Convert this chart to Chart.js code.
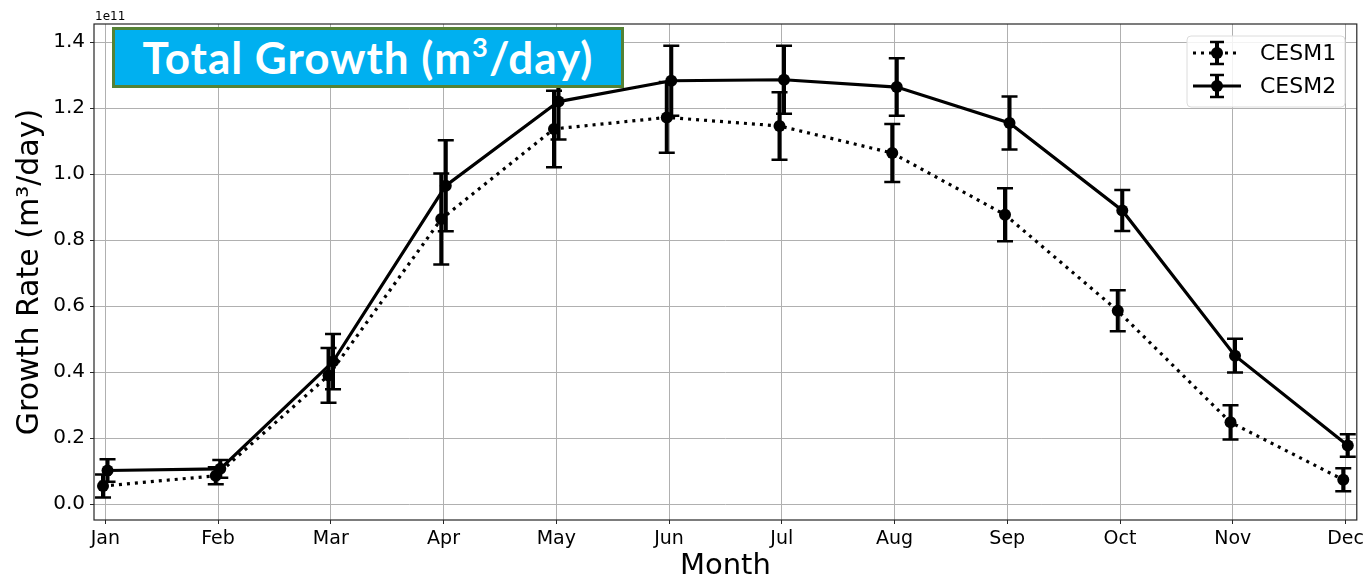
<!DOCTYPE html>
<html>
<head>
<meta charset="utf-8">
<script src="https://cdn.jsdelivr.net/npm/chart.js@4.4.0/dist/chart.umd.min.js"></script>
<style>
  html, body { margin: 0; padding: 0; background: #fff; }
  #wrap { position: relative; width: 1368px; height: 582px; }
  #growthChart { position: absolute; left: 0; top: 0; }
  #titleBox {
    position: absolute; left: 112px; top: 27px; width: 512px; height: 61px;
    box-sizing: border-box; background: #00b0f0; border: 3px solid #548235;
    color: #fff; font-family: Lato, sans-serif; font-weight: bold; font-size: 44px;
    letter-spacing: 1px; line-height: 55px; text-align: center; white-space: nowrap;
  }
  #titleBox sup { font-size: 0.62em; position: relative; top: -0.62em; vertical-align: baseline; line-height: 0; }
</style>
</head>
<body>
<div id="wrap">
  <canvas id="growthChart" width="1368" height="582"></canvas>
  <div id="titleBox">Total Growth (m<sup>3</sup>/day)</div>
</div>
<script>
// monthly growth rate, units of 1e11 m3/day
const months = ['Jan', 'Feb', 'Mar', 'Apr', 'May', 'Jun', 'Jul', 'Aug', 'Sep', 'Oct', 'Nov', 'Dec'];
const cesm1 = [0.055, 0.086, 0.390, 0.864, 1.137, 1.172, 1.146, 1.064, 0.877, 0.586, 0.248, 0.074];
const cesm1Err = [0.035, 0.026, 0.083, 0.138, 0.116, 0.107, 0.102, 0.088, 0.080, 0.062, 0.052, 0.035];
const cesm2 = [0.102, 0.107, 0.432, 0.965, 1.220, 1.283, 1.286, 1.264, 1.155, 0.890, 0.450, 0.178];
const cesm2Err = [0.034, 0.027, 0.084, 0.138, 0.115, 0.106, 0.103, 0.087, 0.080, 0.062, 0.051, 0.034];
// small horizontal offset between the two runs, as in the original
const cesm1Shift = -0.02;
const cesm2Shift = 0.02;

Chart.defaults.font.family = "'DejaVu Sans', sans-serif";
Chart.defaults.color = '#000';

function toPoints(vals, errs, shift) {
    return vals.map((v, i) => ({ x: i + shift, y: v, err: errs[i] }));
}

// vertical error bars with caps
const errorBars = {
    id: 'errorBars',
    afterDatasetsDraw(chart) {
        const ctx = chart.ctx;
        const xs = chart.scales.x, ys = chart.scales.y;
        ctx.save();
        ctx.strokeStyle = '#000';
        chart.data.datasets.forEach(ds => {
            ds.data.forEach(p => {
                const px = xs.getPixelForValue(p.x);
                const top = ys.getPixelForValue(p.y + p.err);
                const bot = ys.getPixelForValue(p.y - p.err);
                ctx.lineWidth = 4;
                ctx.beginPath();
                ctx.moveTo(px, top);
                ctx.lineTo(px, bot);
                ctx.stroke();
                ctx.lineWidth = 2.5;
                ctx.beginPath();
                ctx.moveTo(px - 8, top); ctx.lineTo(px + 8, top);
                ctx.moveTo(px - 8, bot); ctx.lineTo(px + 8, bot);
                ctx.stroke();
            });
        });
        ctx.restore();
    }
};

function drawHandle(ctx, cx, cy, dotted) {
    ctx.save();
    ctx.strokeStyle = '#000';
    ctx.fillStyle = '#000';
    ctx.lineWidth = 3.2;
    if (dotted) ctx.setLineDash([3, 5]);
    ctx.beginPath();
    ctx.moveTo(cx - 24, cy);
    ctx.lineTo(cx + 24, cy);
    ctx.stroke();
    ctx.setLineDash([]);
    ctx.lineWidth = 4;
    ctx.beginPath();
    ctx.moveTo(cx, cy - 11);
    ctx.lineTo(cx, cy + 11);
    ctx.stroke();
    ctx.lineWidth = 2.5;
    ctx.beginPath();
    ctx.moveTo(cx - 7, cy - 11); ctx.lineTo(cx + 7, cy - 11);
    ctx.moveTo(cx - 7, cy + 11); ctx.lineTo(cx + 7, cy + 11);
    ctx.stroke();
    ctx.beginPath();
    ctx.arc(cx, cy, 6, 0, Math.PI * 2);
    ctx.fill();
    ctx.restore();
}

// axes frame, offset label and the legend box
const decorations = {
    id: 'decorations',
    afterDraw(chart) {
        const ctx = chart.ctx;
        const a = chart.chartArea;
        ctx.save();
        ctx.strokeStyle = '#262626';
        ctx.lineWidth = 1.2;
        ctx.strokeRect(a.left, a.top, a.right - a.left, a.bottom - a.top);

        ctx.fillStyle = '#000';
        ctx.font = "12px 'DejaVu Sans'";
        ctx.textBaseline = 'alphabetic';
        ctx.textAlign = 'left';
        ctx.fillText('1e11', a.left + 1, a.top - 4);

        // legend
        const lx = 1187, ly = 36, lw = 158, lh = 71;
        ctx.fillStyle = 'rgba(255,255,255,0.85)';
        ctx.strokeStyle = '#dcdcdc';
        ctx.lineWidth = 1;
        ctx.beginPath();
        ctx.roundRect(lx, ly, lw, lh, 4);
        ctx.fill();
        ctx.stroke();

        const names = chart.data.datasets.map(d => d.label);
        const rows = [53, 86];
        names.forEach((name, i) => {
            drawHandle(ctx, 1217, rows[i], i === 0);
            ctx.fillStyle = '#000';
            ctx.font = "22px 'DejaVu Sans'";
            ctx.textBaseline = 'middle';
            ctx.textAlign = 'left';
            ctx.fillText(name, 1260, rows[i] + 1);
        });
        ctx.restore();
    }
};

const ctx = document.getElementById('growthChart').getContext('2d');
new Chart(ctx, {
    type: 'line',
    data: {
        datasets: [
            {
                label: 'CESM1',
                data: toPoints(cesm1, cesm1Err, cesm1Shift),
                borderColor: '#000',
                backgroundColor: '#000',
                borderWidth: 3.2,
                borderDash: [3, 5],
                pointRadius: 6,
                pointBorderWidth: 0,
                tension: 0
            },
            {
                label: 'CESM2',
                data: toPoints(cesm2, cesm2Err, cesm2Shift),
                borderColor: '#000',
                backgroundColor: '#000',
                borderWidth: 3.2,
                pointRadius: 6,
                pointBorderWidth: 0,
                tension: 0
            }
        ]
    },
    options: {
        responsive: false,
        animation: false,
        layout: { padding: { left: 0, right: 11, top: 24, bottom: 0 } },
        plugins: {
            legend: { display: false },
            tooltip: { enabled: false }
        },
        scales: {
            x: {
                type: 'linear',
                min: -0.1,
                max: 11.1,
                afterFit(s) { s.height = 62; },
                border: { display: false },
                grid: { color: '#b0b0b0', lineWidth: 1, tickLength: 4, tickColor: '#262626' },
                ticks: {
                    stepSize: 1,
                    includeBounds: false,
                    autoSkip: false,
                    maxRotation: 0,
                    padding: 4,
                    font: { size: 19 },
                    callback: v => months[Math.round(v)] || ''
                },
                title: {
                    display: true,
                    text: 'Month',
                    font: { size: 29, lineHeight: 1.1 },
                    padding: { top: 0, bottom: 0 }
                }
            },
            y: {
                min: -0.048,
                max: 1.455,
                afterFit(s) { s.width = 94; },
                border: { display: false },
                grid: { color: '#b0b0b0', lineWidth: 1, tickLength: 4, tickColor: '#262626' },
                ticks: {
                    stepSize: 0.2,
                    includeBounds: false,
                    padding: 5,
                    font: { size: 20 },
                    callback: v => v.toFixed(1)
                },
                title: {
                    display: true,
                    text: 'Growth Rate (m³/day)',
                    font: { size: 30, lineHeight: 1.2 },
                    padding: { top: 12, bottom: 0 }
                }
            }
        }
    },
    plugins: [errorBars, decorations]
});
</script>
</body>
</html>
